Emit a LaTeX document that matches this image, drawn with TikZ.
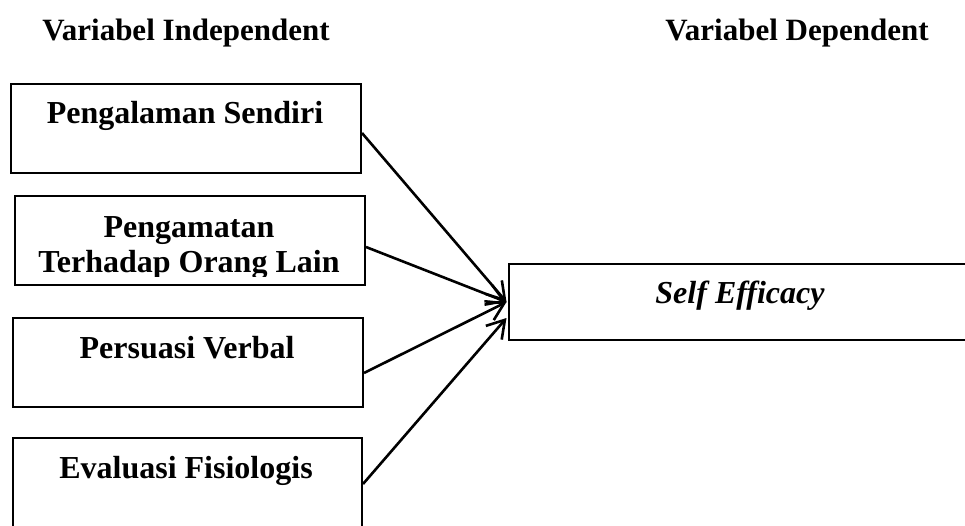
\documentclass[tikz,border=0pt]{standalone}
\usepackage{fontspec}
\setmainfont{Liberation Serif}
\usetikzlibrary{arrows.meta,calc}
\begin{document}
\begin{tikzpicture}[x=1pt,y=-1pt,
  box/.style={draw=black,line width=2pt,fill=white,inner sep=0pt,anchor=north west},
  lbl/.style={font=\fontsize{32}{35}\selectfont\bfseries,inner sep=0pt,anchor=base},
  hdr/.style={font=\fontsize{31}{35}\selectfont\bfseries,inner sep=0pt,anchor=base},
  conn/.style={line width=2.6pt,-{Straight Barb[length=17pt,width=21pt,line width=2.6pt]}}]
\clip (0,0) rectangle (965,525);
\fill[white] (0,0) rectangle (965,525);
% headers
\node[hdr] (h1) at (186,40) {Variabel Independent};
\node[hdr] (h2) at (797,40) {Variabel Dependent};
% boxes
\node[box,minimum width=350pt,minimum height=89pt] (b1) at (10,83) {};
\node[box,minimum width=350pt,minimum height=89pt] (b2) at (14,195) {};
\node[box,minimum width=350pt,minimum height=89pt] (b3) at (12,317) {};
\node[box,minimum width=349pt,minimum height=100pt] (b4) at (12,437) {};
\node[box,minimum width=470pt,minimum height=76pt] (se) at (508,263) {};
% texts
\node[lbl] (t1) at (185,123) {Pengalaman Sendiri};
\begin{scope}
\clip (14,195) rectangle (364,276);
\node[lbl] (t2a) at (189,237) {Pengamatan};
\node[lbl] (t2b) at (189,272) {Terhadap Orang Lain};
\end{scope}
\node[lbl] (t3) at (187,358) {Persuasi Verbal};
\node[lbl] (t4) at (186,478) {Evaluasi Fisiologis};
\node[lbl,font=\fontsize{32}{35}\selectfont\bfseries\itshape] (t5) at (740,303) {Self Efficacy};
% connectors
\draw[conn] ([yshift=-4.5pt]b1.east) -- ([xshift=-1.5pt]se.west);
\draw[conn] ([yshift=-6.5pt]b2.east) -- ([xshift=-1.5pt]se.west);
\draw[conn] ([yshift=-10.5pt]b3.east) -- ([xshift=-1.5pt]se.west);
\draw[conn] ([yshift=4pt]b4.east) -- ([xshift=-1.5pt,yshift=-16pt]se.west);
\end{tikzpicture}
\end{document}
